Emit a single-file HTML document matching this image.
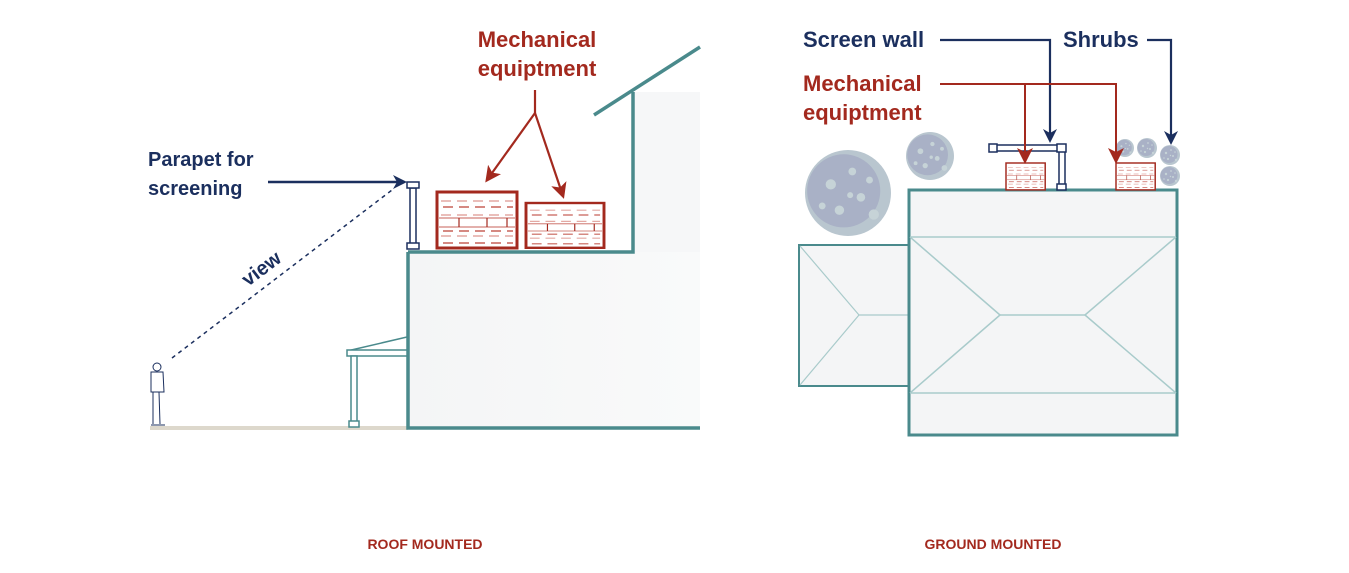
<!DOCTYPE html>
<html><head><meta charset="utf-8"><style>
html,body{margin:0;padding:0;background:#fff;}
svg{display:block;}
text{font-family:"Liberation Sans",sans-serif;font-weight:bold;}
</style></head><body>
<svg width="1349" height="573" viewBox="0 0 1349 573" xmlns="http://www.w3.org/2000/svg">
<defs>
<marker id="an" markerWidth="14" markerHeight="14" refX="11" refY="7" orient="auto" markerUnits="userSpaceOnUse"><path d="M0,0 L14,7 L0,14 L4,7 Z" fill="#1b2f5e"/></marker>
<marker id="ar" markerWidth="16" markerHeight="16" refX="13" refY="8" orient="auto" markerUnits="userSpaceOnUse"><path d="M0,0 L16,8 L0,16 L4,8 Z" fill="#a3291e"/></marker>
<linearGradient id="bg" x1="0" x2="1"><stop offset="0" stop-color="#f4f5f6"/><stop offset="1" stop-color="#f9fafa"/></linearGradient>
<g id="eq">
<rect x="0" y="0" width="80" height="56" fill="#fff" stroke="#a3291e" stroke-width="3"/>
<g stroke="#e3a9a3" stroke-width="1.5" stroke-dasharray="10,6">
<line x1="4" y1="9" x2="76" y2="9"/><line x1="4" y1="23" x2="76" y2="23"/><line x1="4" y1="44" x2="76" y2="44"/></g>
<g stroke="#c76259" stroke-width="1.5" stroke-dasharray="10,6">
<line x1="6" y1="15" x2="76" y2="15"/><line x1="6" y1="39" x2="76" y2="39"/><line x1="6" y1="51" x2="76" y2="51"/></g>
<line x1="2" y1="26" x2="78" y2="26" stroke="#c76259" stroke-width="1"/>
<line x1="2" y1="35" x2="78" y2="35" stroke="#c76259" stroke-width="1"/>
<g stroke="#a3291e" stroke-width="1.2"><line x1="22" y1="26" x2="22" y2="35"/><line x1="50" y1="26" x2="50" y2="35"/><line x1="70" y1="26" x2="70" y2="35"/></g>
</g>
<g id="tree">
<circle cx="0" cy="0" r="1" fill="#b9c6cf"/>
<circle cx="-0.1" cy="-0.05" r="0.85" fill="#a9b1c6"/>
<g fill="#c6d3d7"><circle cx="-0.4" cy="-0.2" r="0.12"/><circle cx="0.3" cy="0.1" r="0.1"/><circle cx="0.1" cy="-0.5" r="0.09"/><circle cx="-0.2" cy="0.4" r="0.11"/><circle cx="0.5" cy="-0.3" r="0.08"/><circle cx="0.05" cy="0.05" r="0.07"/><circle cx="0.6" cy="0.5" r="0.12"/><circle cx="-0.6" cy="0.3" r="0.08"/></g>
</g>
</defs>

<!-- LEFT: roof mounted -->
<rect x="408" y="252" width="292" height="176" fill="url(#bg)"/>
<rect x="633" y="92" width="67" height="160" fill="#f6f7f8"/>
<line x1="150" y1="428" x2="408" y2="428" stroke="#ddd8cc" stroke-width="4"/>
<path d="M408,252 L633,252 L633,92" fill="none" stroke="#4a8a8c" stroke-width="3.5"/>
<path d="M408,252 L408,428 L700,428" fill="none" stroke="#4a8a8c" stroke-width="3.5"/>
<line x1="594" y1="115" x2="700" y2="47" stroke="#4a8a8c" stroke-width="3.5"/>
<path d="M347,351 L407,337" stroke="#4a8a8c" stroke-width="1.5" fill="none"/>
<rect x="347" y="350" width="60" height="6" fill="#fff" stroke="#4a8a8c" stroke-width="1.5"/>
<rect x="351" y="356" width="6" height="67" fill="#fff" stroke="#4a8a8c" stroke-width="1.5"/>
<rect x="349" y="421" width="10" height="6" fill="#fff" stroke="#4a8a8c" stroke-width="1.5"/>
<rect x="410" y="188" width="6" height="56" fill="#fff" stroke="#1b2f5e" stroke-width="1.5"/>
<rect x="407" y="182" width="12" height="6" fill="#fff" stroke="#1b2f5e" stroke-width="1.5"/>
<rect x="407" y="243" width="12" height="6" fill="#fff" stroke="#1b2f5e" stroke-width="1.5"/>
<use href="#eq" transform="translate(437,192)"/>
<use href="#eq" transform="translate(526,203) scale(0.975,0.8)"/>
<g stroke="#1b2f5e" stroke-width="1" fill="none">
<circle cx="157" cy="367" r="4"/><path d="M151,372 L163,372 L164,392 L151,392 Z"/>
<path d="M153,392 L153,424 M159,392 L160,424 M151,425 L157,425 M157,425 L165,425"/></g>
<line x1="172" y1="358" x2="392" y2="190" stroke="#1b2f5e" stroke-width="1.5" stroke-dasharray="4,4"/>
<text x="0" y="0" font-size="20" fill="#1b2f5e" transform="translate(248,287) rotate(-37)">view</text>
<text x="148" y="166" font-size="20" fill="#1b2f5e">Parapet for</text>
<text x="148" y="195" font-size="20" fill="#1b2f5e">screening</text>
<line x1="268" y1="182" x2="404" y2="182" stroke="#1b2f5e" stroke-width="2.5" marker-end="url(#an)"/>
<text x="537" y="47" font-size="22" fill="#a3291e" text-anchor="middle">Mechanical</text>
<text x="537" y="76" font-size="22" fill="#a3291e" text-anchor="middle">equiptment</text>
<path d="M535,90 L535,113" stroke="#a3291e" stroke-width="2.2"/>
<line x1="535" y1="113" x2="487" y2="180" stroke="#a3291e" stroke-width="2.2" marker-end="url(#ar)"/>
<line x1="535" y1="113" x2="563" y2="196" stroke="#a3291e" stroke-width="2.2" marker-end="url(#ar)"/>
<text x="425" y="549" font-size="14" fill="#a3291e" text-anchor="middle">ROOF MOUNTED</text>

<!-- RIGHT: ground mounted -->
<use href="#tree" transform="translate(848,193) scale(43)"/>
<use href="#tree" transform="translate(930,156) scale(24)"/>
<use href="#tree" transform="translate(1125,148) scale(9)"/>
<use href="#tree" transform="translate(1147,148) scale(10)"/>
<use href="#tree" transform="translate(1170,155) scale(10)"/>
<use href="#tree" transform="translate(1170,176) scale(10)"/>
<rect x="799" y="245" width="110" height="141" fill="#f4f5f6" stroke="#4a8a8c" stroke-width="2"/>
<g stroke="#a9cbcb" stroke-width="1.2"><line x1="800" y1="246" x2="859" y2="315"/><line x1="800" y1="385" x2="859" y2="315"/><line x1="859" y1="315" x2="909" y2="315"/></g>
<rect x="909" y="190" width="268" height="245" fill="#f4f5f6" stroke="#4a8a8c" stroke-width="3"/>
<g stroke="#a9cbcb" stroke-width="1.5">
<line x1="910" y1="237" x2="1176" y2="237"/><line x1="910" y1="393" x2="1176" y2="393"/>
<line x1="910" y1="237" x2="1000" y2="315"/><line x1="910" y1="393" x2="1000" y2="315"/>
<line x1="1176" y1="237" x2="1085" y2="315"/><line x1="1176" y1="393" x2="1085" y2="315"/>
<line x1="1000" y1="315" x2="1085" y2="315"/></g>
<rect x="993" y="145" width="66" height="6" fill="#fff" stroke="#1b2f5e" stroke-width="1.5"/>
<rect x="989" y="144" width="8" height="8" fill="#fff" stroke="#1b2f5e" stroke-width="1.5"/>
<rect x="1059" y="151" width="6" height="34" fill="#fff" stroke="#1b2f5e" stroke-width="1.5"/>
<rect x="1057" y="144" width="9" height="8" fill="#fff" stroke="#1b2f5e" stroke-width="1.5"/>
<rect x="1057" y="184" width="9" height="6" fill="#fff" stroke="#1b2f5e" stroke-width="1.5"/>
<use href="#eq" transform="translate(1006,163) scale(0.49,0.48)"/>
<use href="#eq" transform="translate(1116,163) scale(0.49,0.48)"/>
<text x="803" y="47" font-size="22" fill="#1b2f5e">Screen wall</text>
<text x="1063" y="47" font-size="22" fill="#1b2f5e">Shrubs</text>
<text x="803" y="91" font-size="22" fill="#a3291e">Mechanical</text>
<text x="803" y="120" font-size="22" fill="#a3291e">equiptment</text>
<path d="M940,40 L1050,40 L1050,140" fill="none" stroke="#1b2f5e" stroke-width="2.2" marker-end="url(#an)"/>
<path d="M1147,40 L1171,40 L1171,142" fill="none" stroke="#1b2f5e" stroke-width="2.2" marker-end="url(#an)"/>
<path d="M940,84 L1116,84 L1116,161" fill="none" stroke="#a3291e" stroke-width="2" marker-end="url(#ar)"/>
<path d="M1025,84 L1025,161" fill="none" stroke="#a3291e" stroke-width="2" marker-end="url(#ar)"/>
<text x="993" y="549" font-size="14" fill="#a3291e" text-anchor="middle">GROUND MOUNTED</text>
</svg>
</body></html>
